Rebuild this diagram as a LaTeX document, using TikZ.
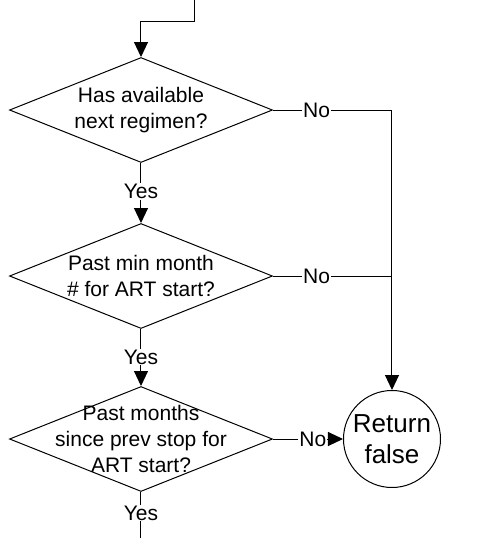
\documentclass[tikz,border=0pt]{standalone}
\usepackage{fontspec}
\setmainfont{Liberation Sans}
\usepackage{tikz}
\usetikzlibrary{shapes.geometric, arrows.meta, positioning}
\definecolor{mydark}{RGB}{0,0,0}
\tikzset{
  decision/.style={diamond, draw=mydark, fill=white,
    minimum width=131.5pt, minimum height=52.5pt,
    inner sep=0pt, line width=0.5pt},
  dtext/.style={align=center, inner sep=0pt,
    font=\fontsize{10.5}{12.8}\selectfont},
  endstate/.style={circle, draw=mydark, fill=white,
    minimum size=48.5pt, inner sep=0pt, align=center,
    font=\fontsize{13}{15.5}\selectfont, line width=0.5pt},
  arrow/.style={-{Triangle[length=7.5pt,width=7pt]}, line width=0.5pt, color=mydark},
  line/.style={line width=0.5pt, color=mydark},
  branch/.style={fill=white, inner sep=0.5pt,
    font=\fontsize{10.5}{12}\selectfont}
}
\begin{document}
\begin{tikzpicture}[x=0.5pt, y=-0.5pt]
  \useasboundingbox (0,0) rectangle (487,538);
  \coordinate (top) at (195,0);
  \node[decision] (d1) at (141,110) {};
  \node[decision] (d2) at (141,276) {};
  \node[decision] (d3) at (141,439) {};
  \node[dtext] (t1) at (d1) {Has available\\next regimen?};
  \node[dtext] (t2) at (d2) {Past min month\\\# for ART start?};
  \node[dtext] (t3) at (d3) {Past months\\since prev stop for\\ART start?};
  \node[endstate] (ret) at (392,439) {Return\\false};
  \coordinate (j1) at (392,110);
  \coordinate (j2) at (392,276);
  \coordinate (bot) at (141,538);

  \draw[arrow] (top) -- ++(0,21) -| (d1.north);
  \draw[line] (d1.east) -- node[branch, pos=0.367]{No} (j1);
  \draw[line] (d2.east) -- node[branch, pos=0.367]{No} (j2);
  \draw[arrow] (j1) -- (ret.north);
  \draw[arrow] (d3.east) -- node[branch, pos=0.57]{No} (ret.west);

  \draw[arrow] (d1.south) -- node[branch, pos=0.475]{Yes} (d2.north);
  \draw[arrow] (d2.south) -- node[branch, pos=0.49]{Yes} (d3.north);
  \draw[line] (d3.south) -- node[branch, pos=0.46]{Yes} (bot);
\end{tikzpicture}
\end{document}
